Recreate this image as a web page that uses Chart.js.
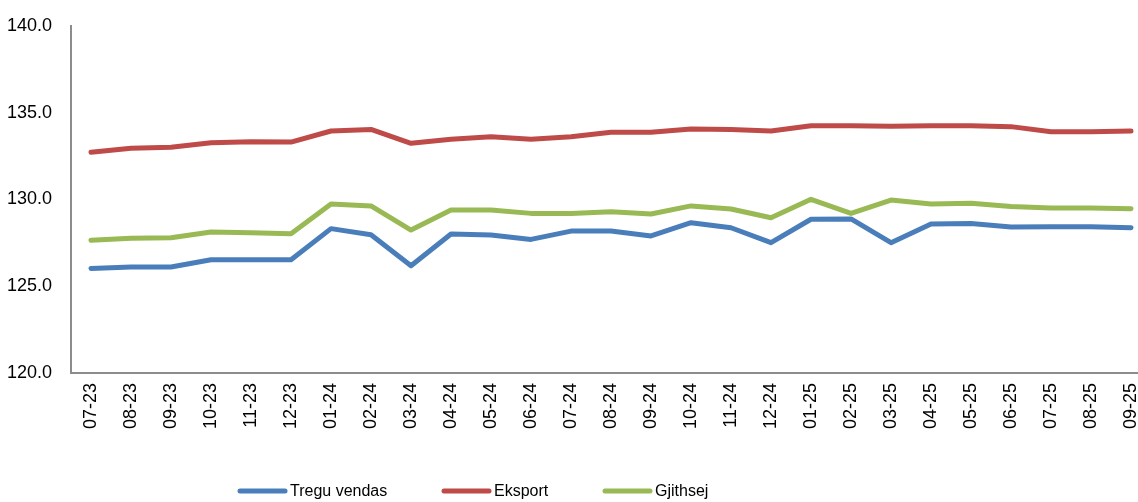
<!DOCTYPE html>
<html>
<head>
<meta charset="utf-8">
<script src="https://cdn.jsdelivr.net/npm/chart.js@4/dist/chart.umd.min.js"></script>
<style>
html,body{margin:0;padding:0;background:#fff;}
#wrap{width:1138px;height:502px;position:relative;}
</style>
</head>
<body>
<div id="wrap"><canvas id="c" width="1138" height="502"></canvas></div>
<script>
const categories = ["07-23","08-23","09-23","10-23","11-23","12-23","01-24","02-24","03-24","04-24","05-24","06-24","07-24","08-24","09-24","10-24","11-24","12-24","01-25","02-25","03-25","04-25","05-25","06-25","07-25","08-25","09-25"];
const treguVendas = [126.03,126.11,126.11,126.53,126.53,126.53,128.32,127.97,126.18,128.01,127.95,127.70,128.18,128.18,127.90,128.66,128.37,127.51,128.86,128.88,127.51,128.59,128.61,128.42,128.43,128.43,128.37];
const eksport = [132.72,132.95,133.01,133.27,133.33,133.31,133.95,134.04,133.24,133.47,133.62,133.47,133.62,133.87,133.87,134.06,134.04,133.95,134.25,134.25,134.22,134.25,134.25,134.20,133.91,133.91,133.95];
const gjithsej = [127.65,127.76,127.80,128.13,128.09,128.03,129.74,129.63,128.24,129.39,129.39,129.20,129.20,129.30,129.16,129.63,129.45,128.95,130.01,129.20,129.97,129.74,129.78,129.59,129.51,129.51,129.47];
const yTicks = [120,125,130,135,140];

const toXY = arr => arr.map((v,i)=>({x:i,y:v}));
const FONT = "'Liberation Sans', Arial, sans-serif";

const legendPlugin = {
  id:'customLegend',
  afterDraw(chart){
    const ctx = chart.ctx;
    const starts = [238, 442, 603];
    const y = 491;
    ctx.save();
    chart.data.datasets.forEach((ds,i)=>{
      const x = starts[i];
      ctx.strokeStyle = ds.borderColor;
      ctx.lineWidth = 5;
      ctx.lineCap = 'round';
      ctx.beginPath();
      ctx.moveTo(x+2, y);
      ctx.lineTo(x+47, y);
      ctx.stroke();
      ctx.fillStyle = '#000';
      ctx.font = "16px " + FONT;
      ctx.textBaseline = 'middle';
      ctx.textAlign = 'left';
      ctx.fillText(ds.label, x+52, y+1);
    });
    ctx.restore();
  }
};

new Chart(document.getElementById('c'), {
  type:'line',
  data:{
    datasets:[
      {label:'Tregu vendas', data:toXY(treguVendas), borderColor:'#4A7EBB', borderWidth:5, pointRadius:0, tension:0, borderJoinStyle:'round', borderCapStyle:'round'},
      {label:'Eksport', data:toXY(eksport), borderColor:'#BE4B48', borderWidth:5, pointRadius:0, tension:0, borderJoinStyle:'round', borderCapStyle:'round'},
      {label:'Gjithsej', data:toXY(gjithsej), borderColor:'#98B954', borderWidth:5, pointRadius:0, tension:0, borderJoinStyle:'round', borderCapStyle:'round'}
    ]
  },
  options:{
    responsive:false,
    animation:false,
    layout:{padding:{top:26,right:0,bottom:0,left:0}},
    plugins:{legend:{display:false}, tooltip:{enabled:false}},
    scales:{
      x:{
        type:'linear',
        min:-0.5,
        max:26.175,
        afterBuildTicks: s => { s.ticks = categories.map((_,i)=>({value:i})); },
        afterFit: s => { s.height = 129; s.paddingLeft = 0; s.paddingRight = 0; },
        grid:{display:false, drawTicks:false},
        border:{display:true, color:'#8c8c8c', width:2},
        ticks:{
          autoSkip:false, maxRotation:90, minRotation:90, padding:10,
          color:'#000', font:{family:FONT, size:18},
          callback: v => categories[v] ?? ''
        }
      },
      y:{
        min:120, max:140,
        afterBuildTicks: s => { s.ticks = yTicks.map(v=>({value:v})); },
        afterFit: s => { s.width = 71; s.paddingTop = 0; s.paddingBottom = 0; },
        grid:{display:false, drawTicks:false},
        border:{display:true, color:'#8c8c8c', width:2},
        ticks:{
          padding:19, color:'#000', font:{family:FONT, size:18},
          callback: v => Number(v).toFixed(1)
        }
      }
    }
  },
  plugins:[legendPlugin]
});
</script>
</body>
</html>
